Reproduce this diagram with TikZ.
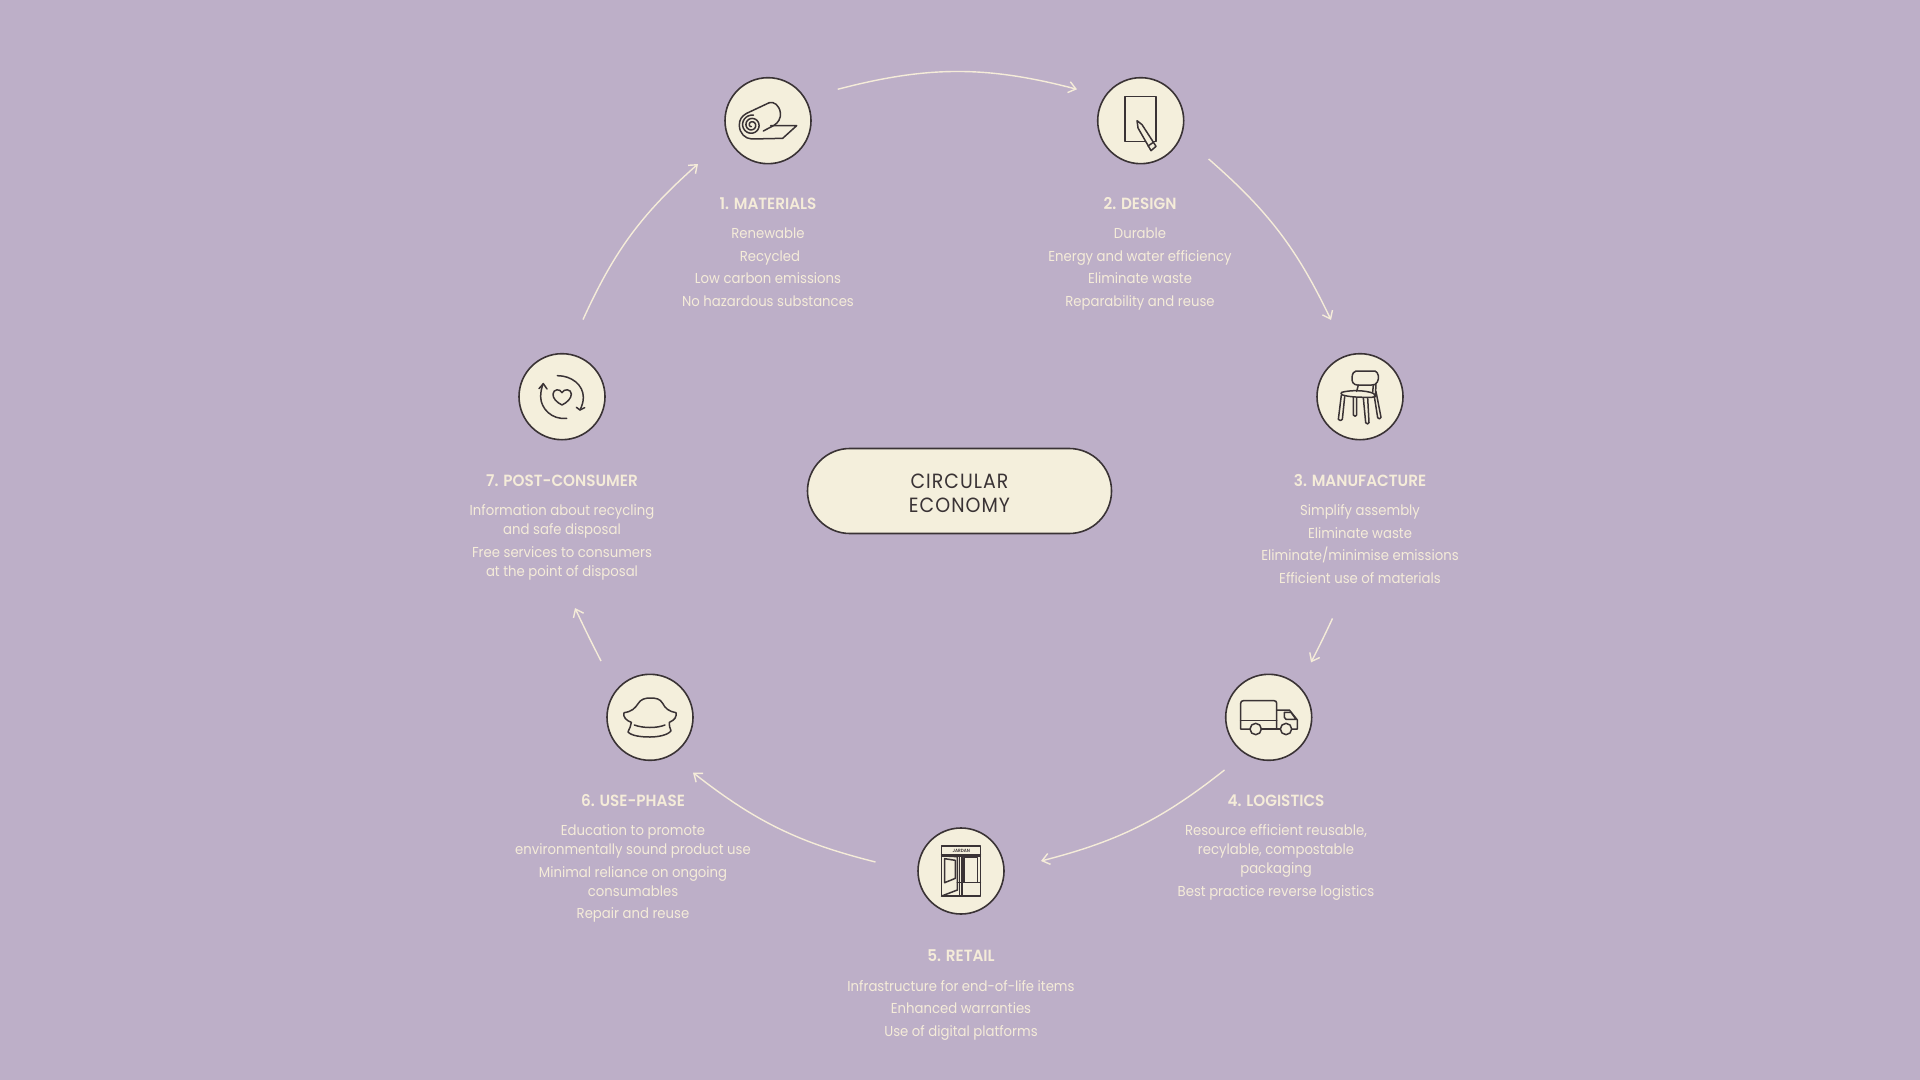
\documentclass[tikz,border=0pt]{standalone}
\usepackage{fontspec}
\setmainfont{Poppins}[BoldFont=* SemiBold,FakeStretch=0.92]
\newfontfamily\headfont{Poppins SemiBold}[FakeStretch=0.94]
\usetikzlibrary{arrows.meta}
\definecolor{bgc}{HTML}{BDAFC8}
\definecolor{creamc}{HTML}{F4EFDC}
\definecolor{textc}{HTML}{F5ECD9}
\definecolor{inkc}{HTML}{3A3335}
\tikzset{
  body/.style={text=textc,inner sep=0pt,anchor=center,text height=7.4pt,text depth=2pt,font=\fontsize{7.2}{9}\selectfont},
  head/.style={text=textc,inner sep=0pt,anchor=center,text height=8.4pt,text depth=2pt,font=\headfont\fontsize{8.1}{9}\selectfont},
  hubtext/.style={text=inkc,inner sep=0pt,text height=8.2pt,text depth=2pt,font=\fontsize{10.3}{12}\selectfont\addfontfeature{LetterSpace=5}},
  disc/.style={circle,draw=inkc,fill=creamc,line width=0.8pt,minimum size=43pt,inner sep=0pt},
  flow/.style={draw=textc,line width=0.7pt,-{Straight Barb[length=3.6pt,width=5.6pt,line width=0.7pt]}},
  ico/.style={draw=inkc,line width=0.75pt,line join=round,line cap=round},
  zoomed/.style={shift={(#1)},x=0.16667pt,y=-0.16667pt}
}
\begin{document}
\begin{tikzpicture}[x=0.5pt,y=-0.5pt]
\useasboundingbox (0,0) rectangle (1920,1080);
\fill[bgc] (0,0) rectangle (1920,1080);

% discs
\node[disc] (n1) at (768,120.7) {};
\node[disc] (n2) at (1140.7,120.7) {};
\node[disc] (n3) at (1360,396.7) {};
\node[disc] (n4) at (1268.7,717.3) {};
\node[disc] (n5) at (961,871) {};
\node[disc] (n6) at (650,717.3) {};
\node[disc] (n7) at (562,396.7) {};

% centre pill
\node[draw=inkc,fill=creamc,line width=0.8pt,rounded corners=21.2pt,minimum width=152pt,minimum height=42.5pt,inner sep=0pt] (hub) at (959.5,491) {};
\node[hubtext] (hubA) at (959.5,482) {CIRCULAR};
\node[hubtext] (hubB) at (959.5,506) {ECONOMY};

% arrow ends
\coordinate (a1s) at (837.7,89.3); \coordinate (a1e) at (1077,89.3);
\coordinate (a2s) at (1208.6,159); \coordinate (a2e) at (1331,320);
\coordinate (a3s) at (1332.5,618.4); \coordinate (a3e) at (1311,662.4);
\coordinate (a4s) at (1224.5,770); \coordinate (a4e) at (1041,861);
\coordinate (a5s) at (875.5,862); \coordinate (a5e) at (693,772.6);
\coordinate (a6s) at (601,661); \coordinate (a6e) at (575,608);
\coordinate (a7s) at (583,319.6); \coordinate (a7e) at (698,164);
\draw[flow] (a1s) to[bend left=14.7] (a1e);
\draw[flow] (a2s) to[bend left=11.7] (a2e);
\draw[flow] (a3s) to[bend left=1] (a3e);
\draw[flow] (a4s) to[bend left=12] (a4e);
\draw[flow] (a5s) to[bend left=12] (a5e);
\draw[flow] (a6s) to[bend left=1] (a6e);
\draw[flow] (a7s) to[bend left=12] (a7e);

% texts
\node[head] (t1) at (768,203) {1. MATERIALS};
\node[body] (t1a) at (768,232.7) {Renewable};
\node[body] (t1b) at (770,255.9) {Recycled};
\node[body] (t1c) at (768,278) {Low carbon emissions};
\node[body] (t1d) at (768,301) {No hazardous substances};

\node[head] (t2) at (1140,203) {2. DESIGN};
\node[body] (t2a) at (1140,232.7) {Durable};
\node[body] (t2b) at (1140,255.9) {Energy and water efficiency};
\node[body] (t2c) at (1140,278) {Eliminate waste};
\node[body] (t2d) at (1140,301) {Reparability and reuse};

\node[head] (t3) at (1360,480) {3. MANUFACTURE};
\node[body] (t3a) at (1360,509.6) {Simplify assembly};
\node[body] (t3b) at (1360,532.6) {Eliminate waste};
\node[body] (t3c) at (1360,554.7) {Eliminate/minimise emissions};
\node[body] (t3d) at (1360,578) {Efficient use of materials};

\node[head] (t4) at (1276,800) {4. LOGISTICS};
\node[body] (t4a) at (1276,830) {Resource efficient reusable,};
\node[body] (t4b) at (1276,849) {recylable, compostable};
\node[body] (t4c) at (1276,868) {packaging};
\node[body] (t4d) at (1276,891) {Best practice reverse logistics};

\node[head] (t5) at (961,955) {5. RETAIL};
\node[body] (t5a) at (961,986) {Infrastructure for end-of-life items};
\node[body] (t5b) at (961,1008) {Enhanced warranties};
\node[body] (t5c) at (961,1031) {Use of digital platforms};

\node[head] (t6) at (633,800) {6. USE-PHASE};
\node[body] (t6a) at (633,830) {Education to promote};
\node[body] (t6b) at (633,849) {environmentally sound product use};
\node[body] (t6c) at (633,872) {Minimal reliance on ongoing};
\node[body] (t6d) at (633,891) {consumables};
\node[body] (t6e) at (633,913) {Repair and reuse};

\node[head] (t7) at (562,480) {7. POST-CONSUMER};
\node[body] (t7a) at (562,510) {Information about recycling};
\node[body] (t7b) at (562,529) {and safe disposal};
\node[body] (t7c) at (562,552) {Free services to consumers};
\node[body] (t7d) at (562,571) {at the point of disposal};

% icon 1 roll
\begin{scope}[zoomed={700,60},ico]
\draw plot[smooth,domain=100:1000,samples=60] ({155+(2+\x/1000*28)*cos(\x)},{195+(2+\x/1000*28)*sin(\x)});
\draw (208,128) -- (140,160) .. controls (125,168) and (117,180) .. (118,197) .. controls (119,220) and (135,236) .. (155,237) -- (248,235) -- (290,197) -- (212,197);
\draw (190,213) -- (222,196) .. controls (235,188) and (243,175) .. (241,158) .. controls (238,136) and (222,124) .. (208,128);
\end{scope}

% icon 2 sheet and pencil
\begin{scope}[zoomed={700,60},ico]
\draw (1275,110) rectangle (1368,245);
\draw[fill=creamc] (1311,182) -- (1326,194) -- (1368,259) -- (1353,272) -- (1314,204) -- cycle;
\draw (1344,258) -- (1360,247);
\end{scope}

% icon 3 chair
\begin{scope}[zoomed={1300,340},ico]
\draw (168,93) -- (225,93) .. controls (236,97) and (238,115) .. (232,126) .. controls (228,134) and (222,135) .. (215,135) -- (172,135) .. controls (160,135) and (154,124) .. (156,112) .. controls (157,100) and (162,94) .. (168,93);
\draw (175,135) -- (170,154); \draw (220,135) -- (218,156); \draw (228,130) -- (226,170);
\draw (125,157) .. controls (150,150) and (195,150) .. (220,160) .. controls (228,165) and (225,172) .. (215,172) .. controls (185,172) and (150,172) .. (128,165) .. controls (122,162) and (122,159) .. (125,157);
\draw (124,165) -- (115,238) .. controls (118,243) and (125,243) .. (127,238) -- (134,170);
\draw (160,172) -- (160,225) .. controls (163,230) and (168,230) .. (170,225) -- (170,174);
\draw (190,174) -- (197,248) .. controls (200,253) and (205,253) .. (207,248) -- (203,174);
\draw (223,170) -- (233,233) .. controls (236,238) and (241,238) .. (243,232) -- (228,155);
\end{scope}

% icon 4 truck
\begin{scope}[zoomed={1210,660},ico]
\draw (120,207) -- (92,207) -- (92,130) .. controls (92,125) and (95,122) .. (100,122) -- (192,122) .. controls (197,122) and (200,125) .. (200,130) -- (200,207);
\draw (92,182) -- (200,182);
\draw (155,207) -- (210,207);
\draw (245,207) -- (262,207) -- (262,180) -- (238,150) -- (200,150);
\draw (223,157) -- (243,157) -- (258,178) -- (228,178) -- (223,172) -- cycle;
\draw (137,207) circle[x radius=17,y radius=17];
\draw (228,207) circle[x radius=17,y radius=17];
\end{scope}

% icon 5 shop
\begin{scope}[zoomed={900,815},ico]
\draw (125,93) rectangle (241,243);
\draw (125,118) -- (241,118);
\draw (125,123) -- (241,123);
\draw (178,123) -- (178,243); \draw (186,123) -- (186,243);
\draw (192,127) rectangle (233,202);
\draw (125,243) -- (172,225) -- (172,125) -- (132,123);
\draw (134,131) -- (166,136) -- (166,190) -- (134,203) -- cycle;
\draw (172,203) -- (241,203);
\node[text=inkc,inner sep=0pt,font=\fontsize{2.3}{3}\selectfont\bfseries] (shopname) at (184,107) {JARDAN};
\end{scope}

% icon 6 sofa
\begin{scope}[zoomed={590,660},ico]
\draw (102,158) .. controls (125,155) and (135,145) .. (145,130) .. controls (152,118) and (165,114) .. (180,114) .. controls (198,114) and (210,116) .. (218,130) .. controls (225,145) and (238,155) .. (258,158) .. controls (260,170) and (255,180) .. (238,187) .. controls (236,195) and (240,205) .. (243,212) .. controls (235,225) and (205,231) .. (180,231) .. controls (155,231) and (125,228) .. (114,216) .. controls (118,205) and (124,197) .. (124,187) .. controls (110,182) and (98,172) .. (102,158) -- cycle;
\draw (133,195) .. controls (160,205) and (200,205) .. (225,195);
\end{scope}

% icon 7 recycle heart
\begin{scope}[zoomed={500,340},ico]
\draw (172,107) .. controls (215,107) and (250,135) .. (250,172) .. controls (250,185) and (246,198) .. (240,210);
\draw (229,202) -- (240,210) -- (254,203);
\draw (200,235) .. controls (155,240) and (122,205) .. (122,170) .. controls (122,155) and (125,142) .. (130,131);
\draw (117,146) -- (130,131) -- (141,147);
\draw (186,195) .. controls (170,187) and (158,175) .. (159,162) .. controls (160,147) and (180,145) .. (186,158) .. controls (192,145) and (214,147) .. (214,162) .. controls (214,175) and (202,187) .. (186,195) -- cycle;
\end{scope}
\end{tikzpicture}
\end{document}
